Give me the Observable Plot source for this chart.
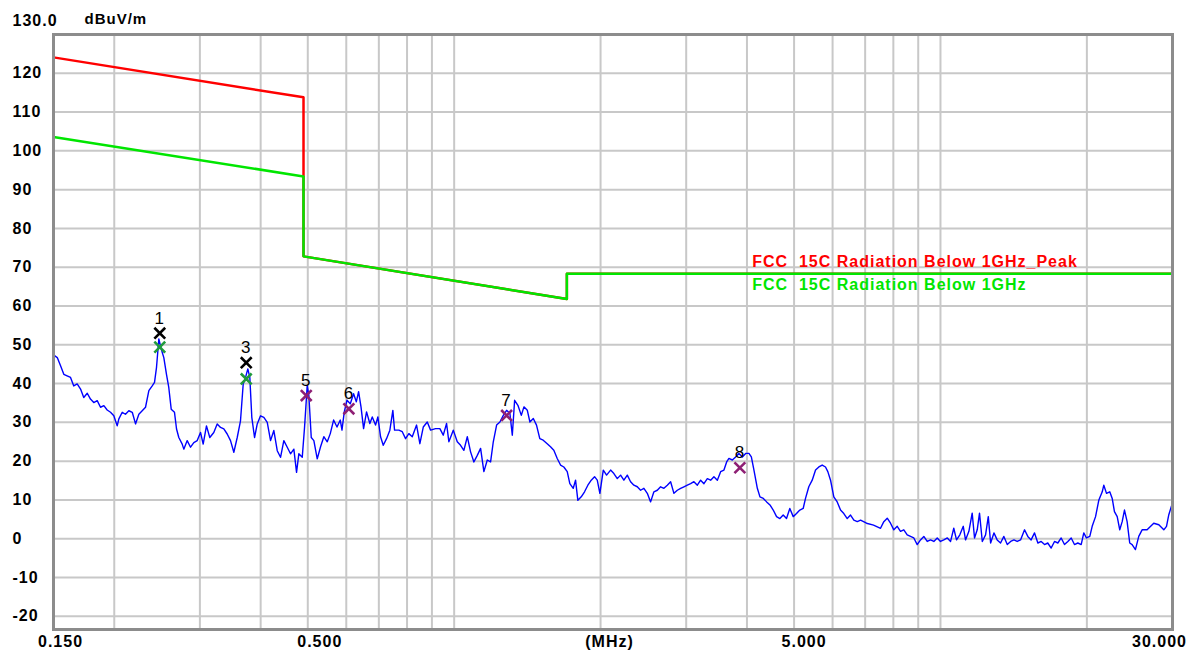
<!DOCTYPE html>
<html>
<head>
<meta charset="utf-8">
<script src="https://cdn.jsdelivr.net/npm/d3@7"></script>
<script src="https://cdn.jsdelivr.net/npm/@observablehq/plot@0.6"></script>
<style>
  html, body { margin: 0; padding: 0; background: #fff; }
  #chart svg text { white-space: pre; letter-spacing: 1px; }
</style>
</head>
<body>
<div id="chart"></div>
<script>
// ---- Data ----
const gridFreqs = [0.2,0.3,0.4,0.5,0.6,0.7,0.8,0.9,1,2,3,4,5,6,7,8,9,10,20];
const gridLevels = [-20,-10,0,10,20,30,40,50,60,70,80,90,100,110,120];
const yTickLabels = [-20,-10,0,10,20,30,40,50,60,70,80,90,100,110,120];
const xTickFreqs = [0.15, 0.5, 2, 5, 30];
const xTickTexts = ["0.150", "0.500", "(MHz)", "5.000", "30.000"];
const yTopLabel = "130.0";
const unitLabel = "dBuV/m";

const limitFreq  = [0.15, 0.49, 0.49, 1.705, 1.705, 30];
const peakLimit  = [124.1, 113.8, 72.8, 61.8, 68.3, 68.3];
const qpLimit    = [103.6, 93.4, 72.8, 61.8, 68.3, 68.3];
const limitNames = ["FCC  15C Radiation Below 1GHz_Peak", "FCC  15C Radiation Below 1GHz"];
const limitLabelFreq = [4.1, 4.1];
const limitLabelLevel = [71.5, 65.5];

const traceFreq = [
0.150,0.1527,0.1551,0.1575,0.1600,0.1626,0.1651,0.1678,0.1705,0.1731,0.1760,0.1787,0.1815,0.1845,0.1874,0.1904,0.1934,0.1965,0.1996,0.2028,
0.2044,0.2077,0.2109,0.2143,0.2178,0.2212,0.2247,0.2283,0.2319,0.2356,0.2394,0.2420,0.2443,0.2470,0.2498,0.2529,0.2561,0.2589,0.2619,0.2660,
0.2686,0.2715,0.2759,0.2780,0.2825,0.2870,0.2915,0.2962,0.3009,0.3047,0.3095,0.3144,0.3204,0.3256,0.3308,0.3360,0.3414,0.3468,0.3523,0.3580,
0.3636,0.3683,0.3724,0.3764,0.3800,0.3836,0.3886,0.3936,0.3998,0.4061,0.4127,0.4192,0.4258,0.4327,0.4395,0.4464,0.4537,0.4608,0.4681,0.4741,
0.4793,0.4871,0.4924,0.4987,0.5025,0.5083,0.5146,0.5229,
0.5312,0.5395,0.5483,0.5562,0.5650,0.5742,0.5832,0.5879,0.5943,0.6020,0.6115,0.6211,0.6291,0.6360,0.6433,0.6512,0.6604,0.6708,0.6785,0.6892,
0.6968,0.7057,0.7148,0.7260,0.7375,0.7480,0.7541,0.7696,0.7821,0.7944,0.8069,0.8200,0.8369,0.8501,0.8639,0.8804,0.8943,0.9157,0.9345,0.9497,
0.9647,0.9752,0.9958,1.0148,1.0308,1.0470,1.0641,1.0808,1.0979,1.1157,1.1333,1.1511,1.1698,1.1882,1.2035,1.2225,1.2418,1.2620,1.2818,1.3020,
1.3169,1.3314,1.3523,1.3743,1.3913,1.4139,1.4314,1.4546,1.4768,1.5000,1.5243,1.5535,1.578,1.603,1.629,1.6547,1.6808,1.708,1.7292,1.7573,
1.7766,1.7961,1.8252,1.854,1.8832,1.9138,1.944,1.969,1.9935,2.0259,2.0578,
2.0973,2.1303,2.1648,2.1989,2.2335,2.2698,2.3055,2.3418,2.3799,2.4174,2.4555,2.4954,2.5347,2.5746,2.6165,2.6577,2.6996,2.7434,2.7867,2.8307,
2.8766,2.9219,2.9679,3.0159,3.0635,3.1118,3.1623,3.2121,3.2628,3.3158,3.368,3.4211,3.4766,3.5313,3.587,3.6332,3.6729,3.7326,3.7914,3.8511,
3.9137,3.9753,4.038,4.0841,4.1346,4.2017,4.2539,4.3229,4.391,4.4601,4.53,4.602,4.675,4.749,4.824,4.900,4.980,5.058,5.138,5.220,
5.278,5.361,5.448,5.535,5.622,5.712,5.802,5.866,5.942,6.035,6.133,6.230,6.328,6.431,6.532,6.636,6.744,6.850,7.046,7.284,
7.529,7.647,7.772,7.894,8.018,8.148,8.276,8.406,8.543,8.677,8.814,8.957,9.098,9.242,9.392,9.540,9.690,9.848,10.00,10.16,
10.33,10.49,10.65,10.79,10.96,11.14,11.26,11.44,11.62,11.75,11.90,12.03,12.19,12.38,12.54,12.68,12.88,13.08,13.29,13.50,
13.72,13.94,14.16,14.38,14.61,14.89,15.12,15.36,15.61,15.86,16.11,16.37,16.62,16.89,17.16,17.43,17.71,17.99,18.28,18.57,
18.86,19.16,19.47,19.71,19.96,20.28,20.51,20.84,21.17,21.51,21.67,21.95,22.29,22.55,22.79,23.09,23.37,23.64,23.90,24.20,
24.50,24.78,25.17,25.57,25.98,26.60,27.45,28.12,28.79,29.16,29.48,29.97
];
const traceLevel = [
47.4,46.7,44.6,42.4,42.0,41.6,39.4,39.9,38.6,36.4,37.5,36.0,35.1,35.6,33.9,34.3,33.2,32.6,31.7,29.1,
30.9,32.6,32.1,33.0,32.6,29.6,32.1,33.0,33.9,38.2,39.4,40.3,44.2,51.5,48.9,46.7,42.4,39.0,33.4,32.6,
28.3,26.1,24.4,23.1,25.3,23.6,24.8,25.3,27.4,24.4,29.1,26.1,27.4,29.6,28.7,28.3,27.0,25.3,22.3,26.1,
30.4,39.9,41.6,43.8,41.6,31.3,26.1,29.6,31.7,31.3,30.0,25.3,27.9,22.7,21.0,25.3,23.6,21.9,23.1,17.1,
21.9,21.0,28.7,39.5,37.0,26.1,25.3,20.6,
23.7,26.3,25.0,27.1,30.6,28.8,30.6,28.0,32.7,35.7,34.8,37.4,35.3,37.9,34.0,28.4,32.7,29.7,31.4,29.3,
31.4,26.3,24.1,25.8,28.0,33.1,28.0,28.0,27.6,25.8,27.1,26.3,29.3,24.5,28.8,30.1,28.0,28.4,28.4,26.7,
29.7,25.0,28.0,25.0,24.1,22.8,26.3,22.4,19.8,21.5,23.3,17.3,20.3,19.8,25.0,29.3,30.1,31.8,33.1,32.3,
26.7,35.7,34.4,31.8,34.0,33.1,30.1,31.0,29.3,25.8,25.4,24.5,23.7,22.8,20.7,19.0,18.5,17.3,14.2,13.0,
15.1,9.9,10.8,12.1,13.8,15.1,16.0,15.1,11.7,17.7,16.4,
17.7,16.8,15.5,16.4,15.1,16.4,14.7,13.8,13.4,12.5,13.0,11.7,9.5,12.1,12.5,13.4,13.0,13.8,14.7,11.7,
12.5,13.0,13.4,13.8,14.2,14.7,13.8,15.1,14.2,15.5,15.1,16.0,15.1,17.3,17.7,19.8,20.7,20.3,21.1,22.0,
21.1,22.0,22.0,21.1,17.7,13.0,10.8,10.4,9.5,8.7,7.4,5.7,5.2,6.1,5.2,7.8,5.7,6.5,7.4,7.8,
10.4,13.4,15.1,17.7,18.5,19.0,18.5,17.3,15.1,10.8,9.5,7.4,6.5,5.2,6.1,4.8,4.4,4.8,4.0,3.5,
2.7,4.4,5.3,4.0,2.3,3.2,1.9,2.3,1.0,0.6,0.2,-1.5,-0.3,0.6,-0.7,-0.3,-0.7,0.2,-0.7,-0.3,
0.2,-0.7,2.7,-0.3,1.0,3.2,-0.3,1.9,6.6,0.2,2.3,6.6,-0.7,1.0,5.7,-1.1,1.5,-0.3,-1.1,0.6,
-1.5,-0.7,-0.3,-0.7,-0.3,2.3,0.6,-0.3,1.5,-1.1,-0.7,-1.5,-1.1,-2.4,-0.7,-1.1,0.2,-1.5,-0.7,0.2,
-1.5,-1.1,-1.5,1.5,0.2,0.6,3.2,5.7,10.0,12.1,13.8,11.7,12.1,10.4,7.0,5.7,2.3,4.4,7.4,4.4,
-1.1,-1.5,-2.8,0.6,2.3,2.3,4.0,3.6,2.3,3.2,6.2,9.1
];

const markerNo    = [1, 2, 3, 4, 5, 6, 7, 8];
const markerFreq  = [0.2481, 0.2481, 0.3736, 0.3736, 0.4964, 0.6074, 1.2818, 3.868];
const markerLevel = [53.0, 49.4, 45.4, 41.2, 36.9, 33.5, 31.8, 18.3];
const markerKind  = ["peak", "qp", "peak", "qp", "avg", "avg", "avg", "avg"];
const labelledMarkers = [1, 3, 5, 6, 7, 8];

// ---- Tables ----
const limits = limitFreq.map((f, i) => ({f, peak: peakLimit[i], qp: qpLimit[i]}));
const trace = traceFreq.map((f, i) => ({f, v: traceLevel[i]}));
const markers = markerNo.map((n, i) => ({n, f: markerFreq[i], v: markerLevel[i], kind: markerKind[i]}));
const markerColor = {peak: "#000000", qp: "#1f9a3c", avg: "#8e1f74"};
const limitLabels = limitNames.map((t, i) => ({t, f: limitLabelFreq[i], v: limitLabelLevel[i]}));
const limitColors = ["#ff0000", "#00e600"];
const xShift = [7, 12, 9, 10, -13];

const font = "'Liberation Sans', Arial, sans-serif";

const chart = Plot.plot({
  width: 1196,
  height: 652,
  marginLeft: 53,
  marginRight: 24,
  marginTop: 34,
  marginBottom: 23,
  style: {fontFamily: font, background: "#ffffff", overflow: "visible"},
  x: {type: "log", domain: [0.15, 30], axis: null},
  y: {domain: [-23.4, 130], axis: null},
  marks: [
    Plot.ruleX(gridFreqs, {x: d => d, stroke: "#c8c8c8", strokeWidth: 2}),
    Plot.ruleY(gridLevels, {y: d => d, stroke: "#c8c8c8", strokeWidth: 2}),
    Plot.line(limits, {x: "f", y: "peak", stroke: "#ff0000", strokeWidth: 2.5}),
    Plot.line(limits, {x: "f", y: "qp", stroke: "#00e600", strokeWidth: 2.5}),
    Plot.line(trace, {x: "f", y: "v", stroke: "#0000ff", strokeWidth: 1.4}),
    Plot.dot(markers, {x: "f", y: "v", symbol: "times", r: 5, strokeWidth: 2.6,
      stroke: d => markerColor[d.kind]}),
    Plot.text(markers.filter(d => labelledMarkers.includes(d.n)), {
      x: "f", y: "v", text: d => String(d.n), dy: -15, fill: "#000",
      fontSize: 17, fontFamily: font}),
    Plot.frame({stroke: "#8c8c8c", strokeWidth: 3}),
    ...limitLabels.map((d, i) => Plot.text([d], {
      x: "f", y: "v", text: "t", textAnchor: "start", fill: limitColors[i],
      fontSize: 16, fontWeight: "bold", fontFamily: font})),
    Plot.text(yTickLabels, {y: d => d, text: d => String(d), frameAnchor: "left",
      dx: -41, textAnchor: "start", fontSize: 16, fontWeight: "bold", fill: "#000", fontFamily: font}),
    Plot.text([yTopLabel], {text: d => d, frameAnchor: "top-left", dx: -41, dy: -20,
      textAnchor: "start", fontSize: 16, fontWeight: "bold", fill: "#000", fontFamily: font}),
    Plot.text([unitLabel], {text: d => d, frameAnchor: "top-left", dx: 31, dy: -21,
      textAnchor: "start", fontSize: 15, fontWeight: "bold", fill: "#000", fontFamily: font}),
    ...xTickFreqs.map((f, i) => Plot.text([f], {x: d => d, text: () => xTickTexts[i],
      frameAnchor: "bottom", dy: 12, dx: xShift[i], lineAnchor: "middle",
      fontSize: 16, fontWeight: "bold", fill: "#000", fontFamily: font}))
  ]
});
document.getElementById("chart").appendChild(chart);
</script>
</body>
</html>
